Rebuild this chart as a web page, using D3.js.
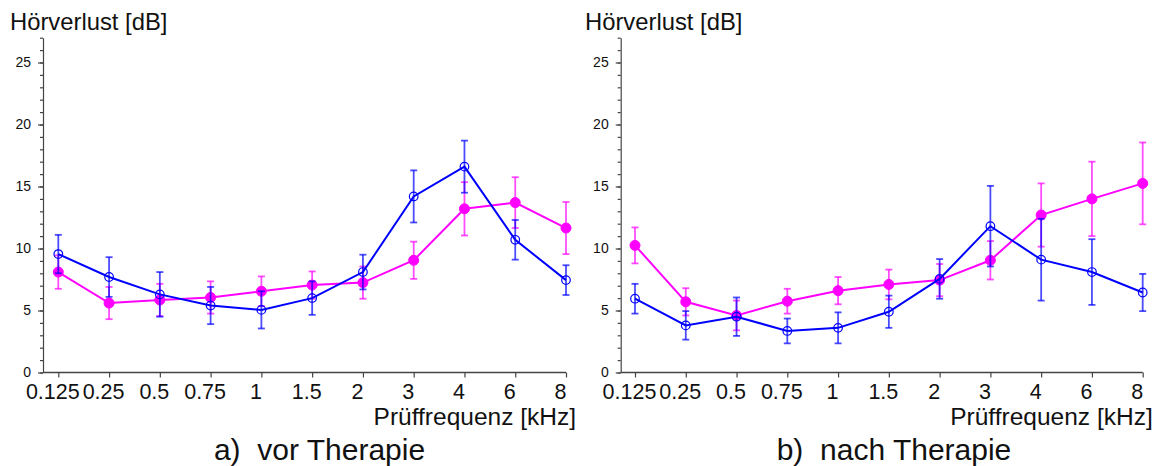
<!DOCTYPE html>
<html><head><meta charset="utf-8">
<script src="https://cdn.jsdelivr.net/npm/d3@7/dist/d3.min.js"></script>
<style>
html,body{margin:0;padding:0;background:#fff;}
text{font-family:"Liberation Sans",Arial,sans-serif;fill:#111;}
</style></head>
<body><svg id="chart" width="1159" height="466"></svg>
<script>
// ---- data ----
const freqLabels = ["0.125","0.25","0.5","0.75","1","1.5","2","3","4","6","8"];
const yTicksMajor = [0,5,10,15,20,25];
const yLabel = "Hörverlust [dB]";
const xLabel = "Prüffrequenz [kHz]";
const captions = ["a)  vor Therapie", "b)  nach Therapie"];

// Panel a) vor Therapie
const aBlueMean = [9.55, 7.7, 6.3, 5.4, 5.05, 6.0, 8.1, 14.2, 16.6, 10.7, 7.45];
const aBlueErr  = [1.55, 1.6, 1.8, 1.5, 1.5, 1.35, 1.4, 2.1, 2.1, 1.6, 1.2];
const aPinkMean = [8.1, 5.6, 5.85, 6.05, 6.55, 7.05, 7.25, 9.05, 13.2, 13.7, 11.65];
const aPinkErr  = [1.35, 1.3, 1.3, 1.3, 1.2, 1.1, 1.3, 1.5, 2.15, 2.05, 2.1];

// Panel b) nach Therapie
const bBlueMean = [5.95, 3.8, 4.5, 3.35, 3.6, 4.9, 7.55, 11.8, 9.1, 8.1, 6.45];
const bBlueErr  = [1.2, 1.15, 1.55, 1.0, 1.25, 1.3, 1.6, 3.25, 3.3, 2.65, 1.5];
const bPinkMean = [10.25, 5.7, 4.6, 5.75, 6.6, 7.1, 7.45, 9.05, 12.7, 14.0, 15.25];
const bPinkErr  = [1.45, 1.1, 1.2, 1.0, 1.1, 1.2, 1.3, 1.55, 2.55, 3.0, 3.3];

const panels = [
  {blue: aBlueMean, blueErr: aBlueErr, pink: aPinkMean, pinkErr: aPinkErr, caption: captions[0]},
  {blue: bBlueMean, blueErr: bBlueErr, pink: bPinkMean, pinkErr: bPinkErr, caption: captions[1]}
];

const BLUE = "#0000ff", PINK = "#ff00ff", AXIS = "#444";
const svg = d3.select("#chart");

const layouts = [
  {axisX: 43, first: 58.3, last: 566, titleX: 10, captionX: 319.5},
  {axisX: 620.7, first: 635, last: 1142.7, titleX: 585, captionX: 894}
];
const yBottom = 372.5, yTop = 37.7;

panels.forEach((p, i) => {
  const L = layouts[i];
  const g = svg.append("g");
  const x = d3.scalePoint().domain(freqLabels).range([L.first, L.last]);
  const y = d3.scaleLinear().domain([0, 27]).range([yBottom, yTop]);

  // minor y ticks
  const yMinor = d3.axisLeft(y).tickValues(d3.range(0, 28, 1)).tickSize(3).tickFormat("").tickSizeOuter(0);
  g.append("g").attr("transform", `translate(${L.axisX},0)`).call(yMinor)
    .call(s => s.selectAll("line,path").attr("stroke", AXIS).attr("stroke-width", 1.2));
  // major y ticks
  const yMajor = d3.axisLeft(y).tickValues(yTicksMajor).tickSize(5).tickPadding(7).tickSizeOuter(0);
  g.append("g").attr("transform", `translate(${L.axisX},0)`).call(yMajor)
    .call(s => { s.select(".domain").remove();
      s.selectAll("line").attr("stroke", AXIS).attr("stroke-width", 1.2);
      s.selectAll("text").attr("font-size", 14).attr("fill", "#111")
        .attr("font-family", '"Liberation Sans",Arial,sans-serif'); });

  // x axis
  const xAxis = d3.axisBottom(x).tickSize(5).tickPadding(6).tickSizeOuter(0);
  const xg = g.append("g").attr("transform", `translate(0,${yBottom})`).call(xAxis);
  xg.select(".domain").attr("d", `M${L.axisX},0H${L.last}`).attr("stroke", AXIS).attr("stroke-width", 1.5);
  xg.selectAll("line").attr("stroke", AXIS).attr("stroke-width", 1.2);
  xg.selectAll("text").attr("font-size", 21.5).attr("dx", -6).attr("fill", "#111")
    .attr("font-family", '"Liberation Sans",Arial,sans-serif');

  // series
  const series = [
    {vals: p.pink, err: p.pinkErr, color: PINK, filled: true},
    {vals: p.blue, err: p.blueErr, color: BLUE, filled: false}
  ];
  series.forEach(s => {
    const pts = freqLabels.map((f, k) => ({f, v: s.vals[k], e: s.err[k]}));
    const eg = g.append("g").attr("stroke", s.color).attr("stroke-width", 1.8).attr("stroke-opacity", 0.7);
    pts.forEach(d => {
      const cx = x(d.f);
      eg.append("line").attr("x1", cx).attr("x2", cx).attr("y1", y(d.v - d.e)).attr("y2", y(d.v + d.e));
      eg.append("line").attr("x1", cx - 3.5).attr("x2", cx + 3.5).attr("y1", y(d.v + d.e)).attr("y2", y(d.v + d.e));
      eg.append("line").attr("x1", cx - 3.5).attr("x2", cx + 3.5).attr("y1", y(d.v - d.e)).attr("y2", y(d.v - d.e));
    });
    g.append("path").datum(pts)
      .attr("d", d3.line().x(d => x(d.f)).y(d => y(d.v)))
      .attr("fill", "none").attr("stroke", s.color).attr("stroke-width", 2);
    g.append("g").selectAll("circle").data(pts).join("circle")
      .attr("cx", d => x(d.f)).attr("cy", d => y(d.v))
      .attr("r", s.filled ? 5 : 4.3)
      .attr("fill", s.filled ? s.color : "#fff")
      .attr("fill-opacity", s.filled ? 1 : 0)
      .attr("stroke", s.color).attr("stroke-width", s.filled ? 1 : 1.2);
  });

  // labels
  g.append("text").attr("x", L.titleX).attr("y", 30).attr("font-size", 23.8).text(yLabel);
  g.append("text").attr("x", L.last + 10).attr("y", 425).attr("text-anchor", "end").attr("font-size", 24.5).text(xLabel);
  g.append("text").attr("x", L.captionX).attr("y", 460).attr("text-anchor", "middle").attr("font-size", 30)
    .style("white-space", "pre").text(p.caption);
});
</script>
</body></html>
